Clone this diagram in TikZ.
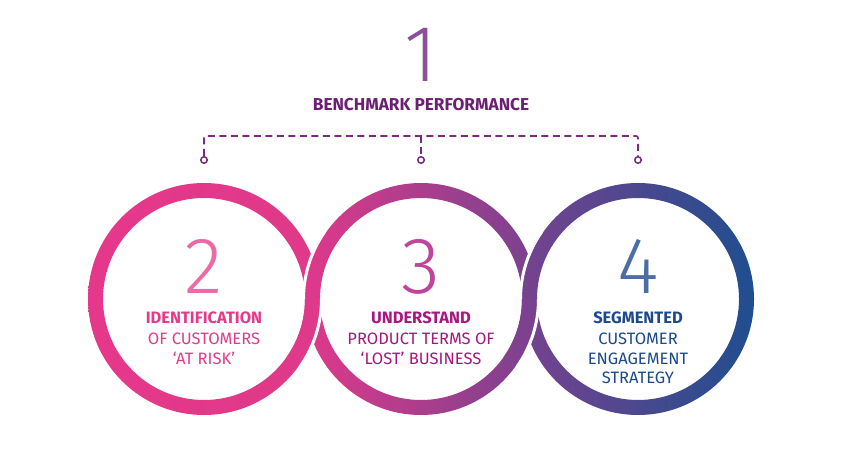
\documentclass[tikz,border=0pt]{standalone}
\usepackage{fontspec}
\setmainfont{Fira Sans}
\newfontfamily\lightfont{Fira Sans Light}
\definecolor{ringA}{HTML}{E6388A}
\definecolor{ringB}{HTML}{DF398A}
\definecolor{ringC}{HTML}{77428F}
\definecolor{ringD}{HTML}{1F4E8F}
\definecolor{dashcol}{HTML}{7B2A82}
\definecolor{headcol}{HTML}{6B1F72}
\definecolor{onecol}{HTML}{8E4F9A}
\definecolor{twocol}{HTML}{EC6AA6}
\definecolor{threecol}{HTML}{C1449C}
\definecolor{fourcol}{HTML}{4C6EA3}
\definecolor{txtA}{HTML}{E33A8A}
\definecolor{txtB}{HTML}{A8167F}
\definecolor{txtC}{HTML}{1D4A8A}
\tikzset{
  num/.style={font=\lightfont\fontsize{80}{80}\selectfont, anchor=base, inner sep=0},
  boldtxt/.style={font=\bfseries\fontsize{16.5}{20}\selectfont, anchor=base, inner sep=0},
  headtxt/.style={font=\bfseries\fontsize{17.2}{20}\selectfont, anchor=base, inner sep=0},
  regtxt/.style={font=\fontsize{16.5}{20}\selectfont, anchor=base, inner sep=0},
  gap/.style={draw=white, line width=3},
  dashline/.style={draw=dashcol, line width=1.6, dash pattern=on 7 off 4.5},
  dot/.style={circle, draw=dashcol, line width=1.5, fill=white, minimum size=6.5, inner sep=0},
}
\begin{document}
\begin{tikzpicture}[x=1pt,y=1pt]
\useasboundingbox (0,0) rectangle (842,450);
\fill[white] (0,0) rectangle (842,450);
\coordinate (c1) at (204,151);
\coordinate (c2) at (421,151);
\coordinate (c3) at (638,151);
% full rings
\shade[even odd rule,left color=ringA,right color=ringB] (c1) circle (116) (c1) circle (101);
\shade[even odd rule,left color=ringB,right color=ringC] (c2) circle (116) (c2) circle (101);
\shade[even odd rule,left color=ringC,right color=ringD] (c3) circle (116) (c3) circle (101);
% top crossings: right ring on top
\draw[gap] (c2) ++(145:117.5) arc[start angle=145,end angle=180,radius=117.5];
\draw[gap] (c3) ++(145:117.5) arc[start angle=145,end angle=180,radius=117.5];
% bottom crossings: left ring on top
\begin{scope}
  \clip (c1) -- ++(-35:130) arc[start angle=-35,end angle=0,radius=130] -- cycle;
  \shade[even odd rule,left color=ringA,right color=ringB] (c1) circle (116) (c1) circle (101);
\end{scope}
\draw[gap] (c1) ++(-35:117.5) arc[start angle=-35,end angle=0,radius=117.5];
\begin{scope}
  \clip (c2) -- ++(-35:130) arc[start angle=-35,end angle=0,radius=130] -- cycle;
  \shade[even odd rule,left color=ringB,right color=ringC] (c2) circle (116) (c2) circle (101);
\end{scope}
\draw[gap] (c2) ++(-35:117.5) arc[start angle=-35,end angle=0,radius=117.5];
% header
\node[num, text=onecol] (n1) at (421,368) {1};
\node[headtxt, text=headcol] (head) at (421,339) {BENCHMARK PERFORMANCE};
% bracket
\node[dot] (o1) at (204,290) {};
\node[dot] (o2) at (421,290) {};
\node[dot] (o3) at (638,290) {};
\coordinate (k1) at (204,314);
\coordinate (k2) at (421,314);
\coordinate (k3) at (638,314);
\draw[dashline, rounded corners=2] (o1.north) -- (k1) -- (k3) -- (o3.north);
\draw[dashline] (k2) -- (o2.north);
% ring texts
\node[num, text=twocol] (n2) at (204,157) {2};
\node[boldtxt, text=txtA] (t2a) at (204,127) {IDENTIFICATION};
\node[regtxt, text=txtA] (t2b) at (204,106) {OF CUSTOMERS};
\node[regtxt, text=txtA] (t2c) at (204,86) {‘AT RISK’};
\node[num, text=threecol] (n3) at (421,157) {3};
\node[boldtxt, text=txtB] (t3a) at (421,127) {UNDERSTAND};
\node[regtxt, text=txtB] (t3b) at (421,106) {PRODUCT TERMS OF};
\node[regtxt, text=txtB] (t3c) at (421,86) {‘LOST’ BUSINESS};
\node[num, text=fourcol] (n4) at (638,157) {4};
\node[boldtxt, text=txtC] (t4a) at (638,127) {SEGMENTED};
\node[regtxt, text=txtC] (t4b) at (638,106) {CUSTOMER};
\node[regtxt, text=txtC] (t4c) at (638,86) {ENGAGEMENT};
\node[regtxt, text=txtC] (t4d) at (638,67) {STRATEGY};
\end{tikzpicture}
\end{document}
